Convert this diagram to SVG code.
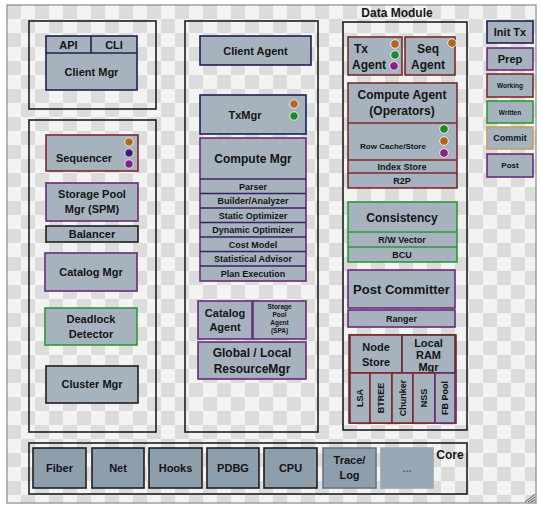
<svg xmlns="http://www.w3.org/2000/svg" width="541" height="509" viewBox="0 0 541 509">
<defs>
<pattern id="chk" x="7" y="5" width="28" height="28" patternUnits="userSpaceOnUse">
<rect width="28" height="28" fill="#f3f3f3"/>
<rect x="0" y="0" width="14" height="14" fill="#dcdcdc"/>
<rect x="14" y="14" width="14" height="14" fill="#dcdcdc"/>
</pattern>
<style>
text{font-family:"Liberation Sans",Arial,sans-serif;font-weight:bold;fill:#141414;text-anchor:middle}
.cont{fill:none;stroke:#1e1e1e;stroke-width:1.6}
.b{fill:#a6b3be;stroke-width:1.6}
.navy{stroke:#1f1f55}
.red{stroke:#7e2a2a}
.pur{stroke:#6a2a78}
.grn{stroke:#2a9a33}
.blk{stroke:#1e1e1e}
.gold{stroke:#c7a15a}
.core{fill:#8d9ead;stroke:#1e1e1e;stroke-width:1.6}
.t11{font-size:11px}
.t12{font-size:12px}
.t13{font-size:13px}
.t9{font-size:9px}
.t8{font-size:8px}
.t7{font-size:6.5px}
.dor{fill:#b0661c;stroke:#fff;stroke-width:0.8}
.ddp{fill:#3a1f6e;stroke:#fff;stroke-width:0.8}
.dpu{fill:#8a1f8c;stroke:#fff;stroke-width:0.8}
.dgr{fill:#1d8a2a;stroke:#fff;stroke-width:0.8}
</style>
</defs>
<rect width="541" height="509" fill="#ffffff"/>
<rect x="7" y="5" width="529" height="498" fill="url(#chk)" stroke="#8a8a8a" stroke-width="1.2"/>
<g id="grip" stroke="#555" stroke-width="1">
<path d="M535 494 L525 502 M535 497 L528 502 M535 500 L531 502" fill="none"/>
</g>

<!-- Left column -->
<g id="client-mgr-container"><rect class="cont" x="29" y="21" width="127" height="88"/></g>
<g id="client-mgr">
<rect class="b navy" x="46" y="36" width="91" height="54"/>
<line x1="46" y1="53" x2="137" y2="53" stroke="#1f1f55" stroke-width="1.6"/>
<line x1="91" y1="36" x2="91" y2="53" stroke="#1f1f55" stroke-width="1.6"/>
<text class="t11" x="68.5" y="49">API</text>
<text class="t11" x="114" y="49">CLI</text>
<text class="t11" x="91.5" y="76">Client Mgr</text>
</g>
<g id="left-container"><rect class="cont" x="29" y="120" width="127" height="312"/></g>
<g id="sequencer">
<rect class="b red" x="46" y="135" width="92" height="36"/>
<text class="t11" x="84" y="162">Sequencer</text>
<circle class="dor" cx="129" cy="142" r="4.2"/>
<circle class="ddp" cx="129" cy="153" r="4.2"/>
<circle class="dpu" cx="129" cy="164" r="4.2"/>
</g>
<g id="spm">
<rect class="b pur" x="46" y="183" width="92" height="38"/>
<text class="t11" x="92" y="198">Storage Pool</text>
<text class="t11" x="92" y="213">Mgr (SPM)</text>
</g>
<g id="balancer">
<rect class="b blk" x="46" y="226" width="92" height="16"/>
<text class="t11" x="92" y="238">Balancer</text>
</g>
<g id="catalog-mgr">
<rect class="b pur" x="45" y="253" width="92" height="38"/>
<text class="t11" x="91" y="276">Catalog Mgr</text>
</g>
<g id="deadlock-detector">
<rect class="b grn" x="45" y="308" width="92" height="37"/>
<text class="t11" x="91" y="323">Deadlock</text>
<text class="t11" x="91" y="338">Detector</text>
</g>
<g id="cluster-mgr">
<rect class="b blk" x="46" y="366" width="92" height="37"/>
<text class="t11" x="92" y="388">Cluster Mgr</text>
</g>

<!-- Middle column -->
<g id="middle-container"><rect class="cont" x="185" y="21" width="133" height="411"/></g>
<g id="client-agent">
<rect class="b navy" x="200" y="36" width="111" height="29"/>
<text class="t11" x="255.5" y="55">Client Agent</text>
</g>
<g id="txmgr">
<rect class="b navy" x="200" y="95" width="106" height="39"/>
<text class="t11" x="245" y="119">TxMgr</text>
<circle class="dor" cx="294" cy="104" r="4.2"/>
<circle class="dgr" cx="294" cy="116" r="4.2"/>
</g>
<g id="compute-mgr">
<rect class="b pur" x="200" y="138" width="106" height="143"/>
<g stroke="#3a2060" stroke-width="1.4">
<line x1="200" y1="179" x2="306" y2="179"/>
<line x1="200" y1="193.5" x2="306" y2="193.5"/>
<line x1="200" y1="208" x2="306" y2="208"/>
<line x1="200" y1="222.5" x2="306" y2="222.5"/>
<line x1="200" y1="237" x2="306" y2="237"/>
<line x1="200" y1="251.5" x2="306" y2="251.5"/>
<line x1="200" y1="266" x2="306" y2="266"/>
</g>
<text class="t12" x="253" y="163">Compute Mgr</text>
<text class="t9" x="253" y="189.5">Parser</text>
<text class="t9" x="253" y="204">Builder/Analyzer</text>
<text class="t9" x="253" y="218.5">Static Optimizer</text>
<text class="t9" x="253" y="233">Dynamic Optimizer</text>
<text class="t9" x="253" y="247.5">Cost Model</text>
<text class="t9" x="253" y="262">Statistical Advisor</text>
<text class="t9" x="253" y="277">Plan Execution</text>
</g>
<g id="catalog-agent">
<rect class="b pur" x="198" y="301" width="54" height="38"/>
<text class="t11" x="225" y="317">Catalog</text>
<text class="t11" x="225" y="331">Agent</text>
</g>
<g id="spa">
<rect class="b pur" x="253" y="301" width="53" height="38"/>
<text class="t7" x="279.5" y="309">Storage</text>
<text class="t7" x="279.5" y="317">Pool</text>
<text class="t7" x="279.5" y="325">Agent</text>
<text class="t7" x="279.5" y="333">(SPA)</text>
</g>
<g id="resource-mgr">
<rect class="b pur" x="198" y="342" width="108" height="37"/>
<text class="t12" x="252" y="357">Global / Local</text>
<text class="t12" x="252" y="373">ResourceMgr</text>
</g>

<!-- Right column: Data Module -->
<g id="data-module">
<rect class="cont" x="343" y="22" width="124" height="408"/>
<text class="t12" x="397" y="17">Data Module</text>
</g>
<g id="tx-agent">
<rect class="b red" x="348" y="37" width="54" height="38"/>
<text class="t12" x="354" y="53" style="text-anchor:start">Tx</text>
<text class="t12" x="352" y="69" style="text-anchor:start">Agent</text>
<circle class="dor" cx="395" cy="44" r="4.3"/>
<circle class="dgr" cx="395" cy="55" r="4.3"/>
<circle class="dpu" cx="394" cy="66" r="4.3"/>
</g>
<g id="seq-agent">
<rect class="b red" x="405" y="37" width="50" height="38"/>
<text class="t12" x="428" y="53">Seq</text>
<text class="t12" x="428" y="69">Agent</text>
<circle class="dor" cx="452" cy="43" r="4.3"/>
</g>
<g id="compute-agent">
<rect class="b red" x="348" y="83" width="109" height="105"/>
<g stroke="#7e2a2a" stroke-width="1.6">
<line x1="348" y1="123" x2="457" y2="123"/>
<line x1="348" y1="160" x2="457" y2="160"/>
<line x1="348" y1="173" x2="457" y2="173"/>
</g>
<text class="t12" x="402" y="99">Compute Agent</text>
<text class="t12" x="402" y="115">(Operators)</text>
<text class="t8" x="393" y="149">Row Cache/Store</text>
<text class="t9" x="402" y="170">Index Store</text>
<text class="t9" x="402" y="184">R2P</text>
<circle class="dgr" cx="444" cy="129" r="4.3"/>
<circle class="dor" cx="444" cy="141" r="4.3"/>
<circle class="dpu" cx="444" cy="153" r="4.3"/>
</g>
<g id="consistency">
<rect class="b grn" x="348" y="202" width="109" height="60"/>
<g stroke="#2a9a33" stroke-width="1.6">
<line x1="348" y1="232" x2="457" y2="232"/>
<line x1="348" y1="247" x2="457" y2="247"/>
</g>
<text class="t12" x="402" y="222">Consistency</text>
<text class="t9" x="402" y="243">R/W Vector</text>
<text class="t9" x="402" y="258">BCU</text>
</g>
<g id="post-committer">
<rect class="b pur" x="348" y="270" width="107" height="38"/>
<text class="t13" x="401.5" y="294">Post Committer</text>
</g>
<g id="ranger">
<rect class="b pur" x="348" y="310" width="107" height="17"/>
<text class="t9" x="401.5" y="322">Ranger</text>
</g>
<g id="storage-group">
<rect class="b red" x="349" y="335" width="107" height="88" style="stroke:#5e2a2a"/>
<rect class="b red" x="350" y="335" width="52" height="38"/>
<text class="t11" x="376" y="351">Node</text>
<text class="t11" x="376" y="366">Store</text>
<rect class="b red" x="402" y="335" width="53" height="38" style="stroke:#5e2a2a"/>
<text class="t11" x="428.5" y="347">Local</text>
<text class="t11" x="428.5" y="359">RAM</text>
<text class="t11" x="428.5" y="371">Mgr</text>
<rect class="b red" x="350" y="373" width="20" height="50"/>
<rect class="b red" x="370" y="373" width="22" height="50"/>
<rect class="b red" x="392" y="373" width="21" height="50"/>
<rect class="b red" x="413" y="373" width="22" height="50"/>
<rect class="b pur" x="435" y="373" width="20" height="50"/>
<text class="t9" transform="translate(363,398) rotate(-90)">LSA</text>
<text class="t9" transform="translate(384,398) rotate(-90)">BTREE</text>
<text class="t9" transform="translate(405.5,398) rotate(-90)">Chunker</text>
<text class="t9" transform="translate(427,398) rotate(-90)">NSS</text>
<text class="t9" transform="translate(448,398) rotate(-90)">FB Pool</text>
</g>

<!-- Legend -->
<g id="legend-init-tx"><rect class="b navy" x="487" y="21" width="46" height="22"/><text class="t11" x="510" y="36">Init Tx</text></g>
<g id="legend-prep"><rect class="b pur" x="487" y="48" width="46" height="22"/><text class="t11" x="510" y="63">Prep</text></g>
<g id="legend-working"><rect class="b red" x="487" y="74" width="46" height="23"/><text class="t7" x="510" y="88">Working</text></g>
<g id="legend-written"><rect class="b grn" x="487" y="101" width="46" height="22"/><text class="t7" x="510" y="115">Written</text></g>
<g id="legend-commit"><rect class="b gold" x="487" y="127" width="46" height="22"/><text class="t9" x="510" y="141">Commit</text></g>
<g id="legend-post"><rect class="b pur" x="487" y="154" width="46" height="23"/><text class="t8" x="510" y="168">Post</text></g>

<!-- Core -->
<g id="core">
<rect class="cont" x="29" y="443" width="438" height="51"/>
<text class="t12" x="450" y="459">Core</text>
</g>
<g id="core-fiber"><rect class="core" x="33" y="448" width="53" height="40"/><text class="t11" x="59.5" y="472">Fiber</text></g>
<g id="core-net"><rect class="core" x="92" y="448" width="52" height="40"/><text class="t11" x="118" y="472">Net</text></g>
<g id="core-hooks"><rect class="core" x="149" y="448" width="53" height="40"/><text class="t11" x="175.5" y="472">Hooks</text></g>
<g id="core-pdbg"><rect class="core" x="207" y="448" width="52" height="40"/><text class="t11" x="233" y="472">PDBG</text></g>
<g id="core-cpu"><rect class="core" x="264" y="448" width="53" height="40"/><text class="t11" x="290.5" y="472">CPU</text></g>
<g id="core-trace"><rect class="core" x="323" y="448" width="53" height="40" style="stroke:#6a7480"/><text class="t11" x="349.5" y="464">Trace/</text><text class="t11" x="349.5" y="479">Log</text></g>
<g id="core-more"><rect class="core" x="381" y="448" width="52" height="40" style="stroke:#9aa7b2;fill:#97a8b6"/><text class="t11" x="407" y="472" style="fill:#5a6470">...</text></g>

<g id="connectors"/>
</svg>
